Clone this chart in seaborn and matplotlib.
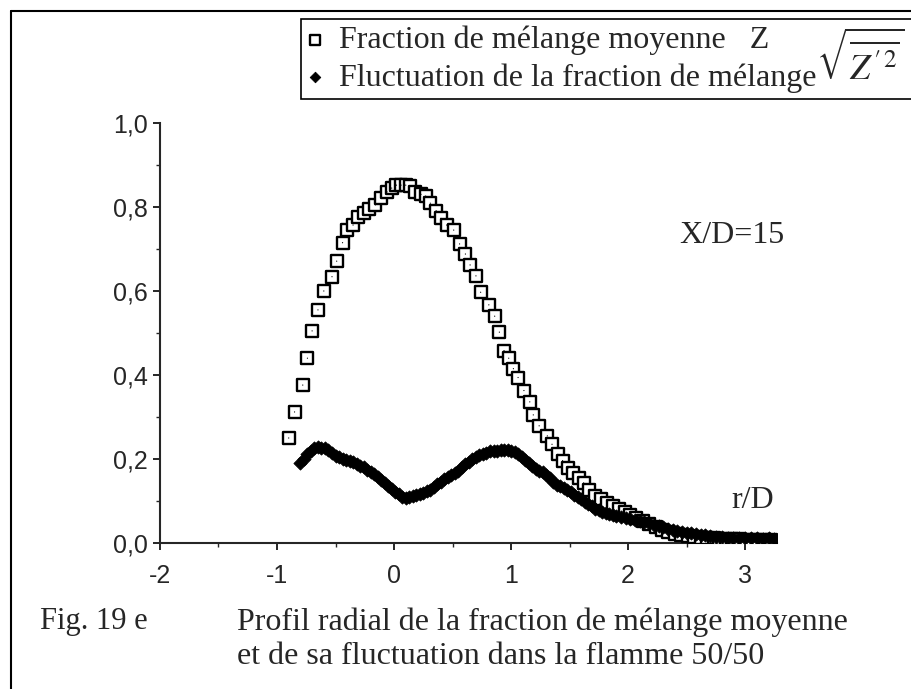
import seaborn as sns
import matplotlib.pyplot as plt
import matplotlib.lines as mlines
import pandas as pd
from matplotlib.ticker import MultipleLocator, FuncFormatter

# mean mixture fraction Z (open squares)
x_mean = [-0.90, -0.85, -0.78, -0.74, -0.70, -0.65, -0.60, -0.53, -0.49, -0.44,
          -0.40, -0.35, -0.31, -0.26, -0.21, -0.16, -0.11, -0.06, -0.02, 0.02,
          0.06, 0.10, 0.14, 0.18, 0.23, 0.27, 0.31, 0.36, 0.40, 0.45,
          0.51, 0.56, 0.61, 0.65, 0.70, 0.74, 0.81, 0.86, 0.90, 0.94,
          0.98, 1.02, 1.06, 1.11, 1.16, 1.19, 1.24, 1.31, 1.35, 1.40,
          1.44, 1.49, 1.53, 1.58, 1.62, 1.67, 1.72, 1.77, 1.82, 1.87,
          1.92, 1.97, 2.02, 2.07, 2.13, 2.18, 2.24, 2.29, 2.34, 2.40,
          2.45, 2.51, 2.56, 2.62, 2.67, 2.73, 2.78, 2.84, 2.89, 2.95,
          3.00, 3.06, 3.11, 3.17, 3.22]
z_mean = [0.250, 0.312, 0.376, 0.440, 0.505, 0.555, 0.600, 0.634, 0.671, 0.715,
          0.745, 0.757, 0.777, 0.785, 0.795, 0.805, 0.822, 0.836, 0.845, 0.852,
          0.852, 0.852, 0.850, 0.835, 0.830, 0.826, 0.809, 0.791, 0.773, 0.757,
          0.745, 0.712, 0.688, 0.662, 0.636, 0.597, 0.567, 0.540, 0.502, 0.458,
          0.440, 0.415, 0.394, 0.363, 0.336, 0.305, 0.279, 0.255, 0.235, 0.211,
          0.196, 0.179, 0.166, 0.155, 0.143, 0.125, 0.113, 0.104, 0.096, 0.088,
          0.080, 0.074, 0.067, 0.059, 0.052, 0.045, 0.039, 0.032, 0.027, 0.022,
          0.019, 0.016, 0.015, 0.013, 0.012, 0.011, 0.010, 0.010, 0.009, 0.009,
          0.008, 0.008, 0.008, 0.008, 0.008]

# rms fluctuation of Z (filled diamonds)
x_fluc = [-0.80, -0.77, -0.74, -0.71, -0.68, -0.65, -0.62, -0.59, -0.56, -0.53,
          -0.50, -0.47, -0.44, -0.41, -0.38, -0.35, -0.32, -0.29, -0.26, -0.23,
          -0.20, -0.17, -0.14, -0.11, -0.08, -0.05, -0.02, 0.01, 0.04, 0.07,
          0.10, 0.13, 0.16, 0.19, 0.22, 0.25, 0.28, 0.31, 0.34, 0.37,
          0.40, 0.43, 0.46, 0.49, 0.52, 0.55, 0.58, 0.61, 0.64, 0.67,
          0.70, 0.73, 0.76, 0.79, 0.82, 0.85, 0.88, 0.91, 0.94, 0.97,
          1.00, 1.03, 1.06, 1.09, 1.12, 1.15, 1.18, 1.21, 1.24, 1.27,
          1.30, 1.33, 1.36, 1.39, 1.42, 1.45, 1.48, 1.51, 1.54, 1.57,
          1.60, 1.63, 1.66, 1.69, 1.72, 1.75, 1.78, 1.81, 1.84, 1.87,
          1.90, 1.94, 1.98, 2.02, 2.06, 2.10, 2.14, 2.18, 2.22, 2.26,
          2.30, 2.34, 2.38, 2.42, 2.46, 2.50, 2.54, 2.58, 2.62, 2.66,
          2.70, 2.75, 2.80, 2.85, 2.90, 2.95, 3.00, 3.05, 3.10, 3.15,
          3.20, 3.25]
z_fluc = [0.190, 0.200, 0.212, 0.220, 0.226, 0.228, 0.226, 0.227, 0.222, 0.214,
          0.208, 0.204, 0.200, 0.198, 0.195, 0.192, 0.187, 0.184, 0.180, 0.174,
          0.168, 0.164, 0.158, 0.150, 0.143, 0.136, 0.129, 0.122, 0.116, 0.110,
          0.107, 0.110, 0.113, 0.114, 0.117, 0.120, 0.124, 0.127, 0.133, 0.140,
          0.146, 0.152, 0.158, 0.162, 0.167, 0.172, 0.180, 0.188, 0.194, 0.199,
          0.204, 0.210, 0.212, 0.214, 0.218, 0.220, 0.220, 0.222, 0.221, 0.221,
          0.220, 0.216, 0.212, 0.205, 0.197, 0.190, 0.183, 0.176, 0.172, 0.168,
          0.163, 0.155, 0.146, 0.139, 0.136, 0.131, 0.126, 0.121, 0.114, 0.109,
          0.104, 0.098, 0.093, 0.088, 0.082, 0.078, 0.074, 0.072, 0.069, 0.066,
          0.064, 0.062, 0.059, 0.056, 0.054, 0.052, 0.049, 0.047, 0.044, 0.040,
          0.037, 0.034, 0.032, 0.029, 0.027, 0.025, 0.023, 0.021, 0.019, 0.018,
          0.017, 0.015, 0.014, 0.013, 0.013, 0.012, 0.011, 0.011, 0.011, 0.010,
          0.011, 0.010]

label_mean = "Fraction de mélange moyenne   Z"
label_fluc = "Fluctuation de la fraction de mélange"

df_mean = pd.DataFrame({"r": x_mean, "z": z_mean})
df_fluc = pd.DataFrame({"r": x_fluc, "z": z_fluc})

sns.set_style("ticks")
serif = ["Liberation Serif", "DejaVu Serif"]
sans = ["Liberation Sans", "DejaVu Sans"]

fig = plt.figure(figsize=(9.11, 6.89), dpi=100)
ax = fig.add_axes([0.1756, 0.2119, 0.677, 0.6096])

sns.scatterplot(data=df_mean, x="r", y="z", marker="s", s=85, facecolor="white",
                edgecolor="black", linewidth=1.7, ax=ax, label=label_mean, zorder=3)
sns.scatterplot(data=df_mean, x="r", y="z", marker=".", s=3, color="black",
                edgecolor="none", ax=ax, zorder=4, legend=False)
sns.scatterplot(data=df_fluc, x="r", y="z", marker="D", s=45, color="black",
                edgecolor="black", linewidth=0.6, ax=ax, label=label_fluc, zorder=5)

ax.set_xlim(-2, 3.27)
ax.set_ylim(0, 1.0)
ax.xaxis.set_major_locator(MultipleLocator(1))
ax.xaxis.set_minor_locator(MultipleLocator(0.5))
ax.yaxis.set_major_locator(MultipleLocator(0.2))
ax.yaxis.set_minor_locator(MultipleLocator(0.1))
ax.yaxis.set_major_formatter(FuncFormatter(lambda v, p: f"{v:.1f}".replace(".", ",")))
ax.xaxis.set_major_formatter(FuncFormatter(lambda v, p: f"{v:.0f}"))
ax.set_xlabel("")
ax.set_ylabel("")
sns.despine(ax=ax)
for s in ["left", "bottom"]:
    ax.spines[s].set_linewidth(1.5)
ax.tick_params(which="major", length=5, width=1.4, labelsize=18, pad=4)
ax.tick_params(axis="x", which="major", pad=10)
ax.tick_params(which="minor", length=3, width=1.0)
for t in ax.get_xticklabels() + ax.get_yticklabels():
    t.set_fontfamily(sans)

ax.text(2.44, 0.733, "X/D=15", fontsize=23, family=serif, va="center")
ax.text(2.88, 0.102, "r/D", fontsize=23, family=serif, va="center")

leg = ax.legend(loc="upper left", bbox_to_anchor=(301 / 911, 1 - 20 / 689, 612 / 911, 0.001),
                bbox_transform=fig.transFigure, mode="expand", borderaxespad=0,
                frameon=True, fancybox=False, edgecolor="black", framealpha=1,
                prop={"family": serif, "size": 23}, handletextpad=0.5,
                labelspacing=0.25, borderpad=0.2, handlelength=0.5, markerscale=0.8)
leg.get_frame().set_linewidth(1.2)

fig.text(816 / 911, 1 - 60 / 689, r"$\sqrt{\overline{Z^{\prime\,2}}}$", fontsize=26,
         family=serif, va="center", ha="left", math_fontfamily="stix")

fig.text(40 / 911, 1 - 622 / 689, "Fig. 19 e", fontsize=22, family=serif, va="center")
fig.text(237 / 911, 1 - 622 / 689, "Profil radial de la fraction de mélange moyenne",
         fontsize=23, family=serif, va="center")
fig.text(237 / 911, 1 - 657 / 689, "et de sa fluctuation dans la flamme 50/50",
         fontsize=23, family=serif, va="center")

fig.add_artist(mlines.Line2D([11 / 911, 1], [1 - 11 / 689] * 2, color="black", lw=1.5,
                             transform=fig.transFigure))
fig.add_artist(mlines.Line2D([11 / 911] * 2, [0, 1 - 11 / 689], color="black", lw=1.5,
                             transform=fig.transFigure))

fig.savefig("out.png", dpi=100)
